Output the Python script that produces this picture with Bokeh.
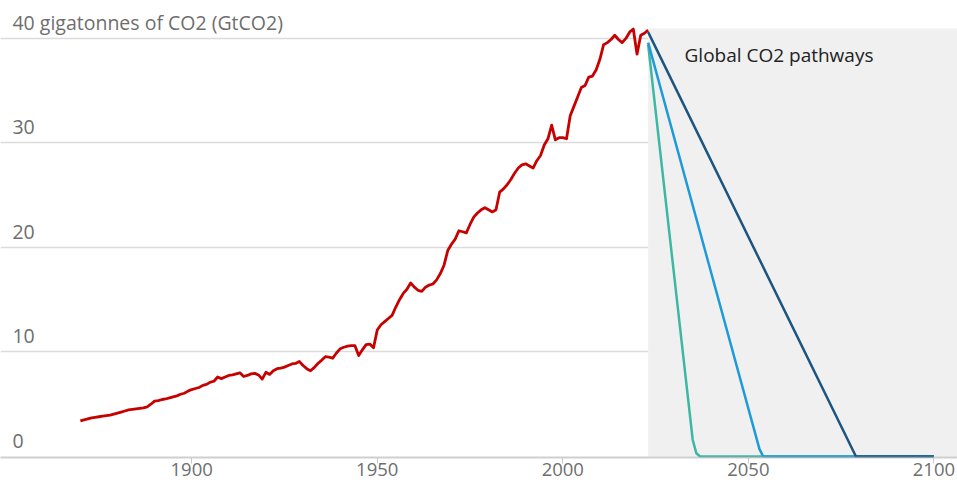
from bokeh.plotting import figure
from bokeh.models import Range1d, FixedTicker, BoxAnnotation, ColumnDataSource
from bokeh.core.properties import value
from bokeh.embed import file_html
from bokeh.resources import INLINE

# ---- data -------------------------------------------------------------
years = list(range(1870, 2024))
emissions = [
    3.4, 3.5, 3.6, 3.7, 3.75, 3.8, 3.85, 3.9, 3.95, 4.05,            # 1870-1879
    4.15, 4.25, 4.35, 4.45, 4.5, 4.55, 4.6, 4.65, 4.75, 5.0,         # 1880-1889
    5.3, 5.35, 5.45, 5.5, 5.6, 5.7, 5.8, 5.95, 6.05, 6.25,           # 1890-1899
    6.4, 6.5, 6.6, 6.8, 6.9, 7.1, 7.2, 7.6, 7.45, 7.6,               # 1900-1909
    7.75, 7.8, 7.9, 8.0, 7.65, 7.75, 7.9, 7.95, 7.8, 7.4,            # 1910-1919
    8.05, 7.85, 8.2, 8.4, 8.45, 8.55, 8.7, 8.85, 8.9, 9.1,           # 1920-1929
    8.7, 8.4, 8.2, 8.5, 8.9, 9.2, 9.55, 9.5, 9.4, 9.9,               # 1930-1939
    10.3, 10.45, 10.55, 10.6, 10.6, 9.65, 10.2, 10.7, 10.75, 10.4,   # 1940-1949
    12.1, 12.6, 12.9, 13.2, 13.5, 14.3, 15.0, 15.6, 16.0, 16.6,      # 1950-1959
    16.2, 15.9, 15.8, 16.2, 16.4, 16.5, 16.9, 17.5, 18.3, 19.7,      # 1960-1969
    20.3, 20.8, 21.6, 21.5, 21.4, 22.2, 22.9, 23.3, 23.6, 23.8,      # 1970-1979
    23.6, 23.4, 23.6, 25.3, 25.6, 26.0, 26.5, 27.1, 27.6, 27.9,      # 1980-1989
    28.0, 27.8, 27.6, 28.3, 28.8, 29.8, 30.4, 31.7, 30.3, 30.5,      # 1990-1999
    30.5, 30.4, 32.6, 33.5, 34.4, 35.3, 35.5, 36.3, 36.4, 37.0,      # 2000-2009
    38.0, 39.4, 39.6, 39.9, 40.3, 39.9, 39.6, 40.0, 40.6, 40.9,      # 2010-2019
    38.5, 40.3, 40.5, 40.8,                                          # 2020-2023
]

path_fast_years = [2023, 2035, 2036, 2037, 2100]
path_fast_values = [39.4, 1.6, 0.3, 0.0, 0.0]
path_mid_years = [2023, 2053, 2054, 2100]
path_mid_values = [39.6, 0.7, 0.0, 0.0]
path_slow_years = [2023, 2079, 2100]
path_slow_values = [40.6, 0.0, 0.0]

x_ticks = [1900, 1950, 2000, 2050, 2100]
y_ticks = [0, 10, 20, 30, 40]
y_tick_labels = ["0", "10", "20", "30", "40 gigatonnes of CO2 (GtCO2)"]
pathways_label = "Global CO2 pathways"
pathways_start = 2023

# ---- style ------------------------------------------------------------
FONT = "Open Sans"
RED = "#c70000"
TEAL = "#3cb8a2"
BLUE = "#1f9ad9"
NAVY = "#1d5580"
TEXT_GREY = "#6e6e6e"

p = figure(width=957, height=484, output_backend="svg", toolbar_location=None,
           x_range=Range1d(1848.48, 2106.36), y_range=Range1d(-0.1, 43.63),
           min_border_left=0, min_border_right=0, min_border_top=0,
           min_border_bottom=27)
p.outline_line_color = None
p.background_fill_color = "white"
p.border_fill_color = "white"

# shaded future region
p.add_layout(BoxAnnotation(left=pathways_start, bottom=0, top=40.96,
                           fill_color="#f0f0f0", fill_alpha=1.0,
                           line_color=None, level="underlay"))

# axes
p.yaxis.visible = False
p.xgrid.visible = False
p.ygrid.ticker = FixedTicker(ticks=[10, 20, 30, 40])
p.ygrid.grid_line_color = "#dcdcdc"
p.ygrid.grid_line_width = 1.5

xa = p.xaxis[0]
xa.ticker = FixedTicker(ticks=x_ticks)
xa.axis_line_color = "#a8a8a8"
xa.axis_line_alpha = 0.55
xa.axis_line_width = 2
xa.major_tick_line_color = "#c8c8c8"
xa.major_tick_in = 0
xa.major_tick_out = 6
xa.minor_tick_line_color = None
xa.major_label_text_font = FONT
xa.major_label_text_font_size = "18.5px"
xa.major_label_text_color = TEXT_GREY
xa.major_label_standoff = -1

# y labels drawn above gridlines
lab_src = ColumnDataSource(dict(x=[1851.7] * len(y_ticks),
                                y=[v + 1.5 for v in y_ticks],
                                t=y_tick_labels))
p.text(x="x", y="y", text="t", source=lab_src, text_font=value(FONT),
       text_font_size="19.5px", text_color=TEXT_GREY,
       text_baseline="alphabetic", text_align="left")

# lines
p.line(years, emissions, line_color=RED, line_width=2.8, line_join="round")
p.line(path_fast_years, path_fast_values, line_color=TEAL, line_width=2.5, line_join="round")
p.line(path_mid_years, path_mid_values, line_color=BLUE, line_width=2.5, line_join="round")
p.line(path_slow_years, path_slow_values, line_color=NAVY, line_width=2.5, line_join="round")

p.text(x=[2032.8], y=[38.4], text=[pathways_label], text_font=value(FONT),
       text_font_size="19px", text_color="#222222",
       text_baseline="alphabetic", text_align="left")

open("out.html", "w").write(file_html(p, INLINE))
